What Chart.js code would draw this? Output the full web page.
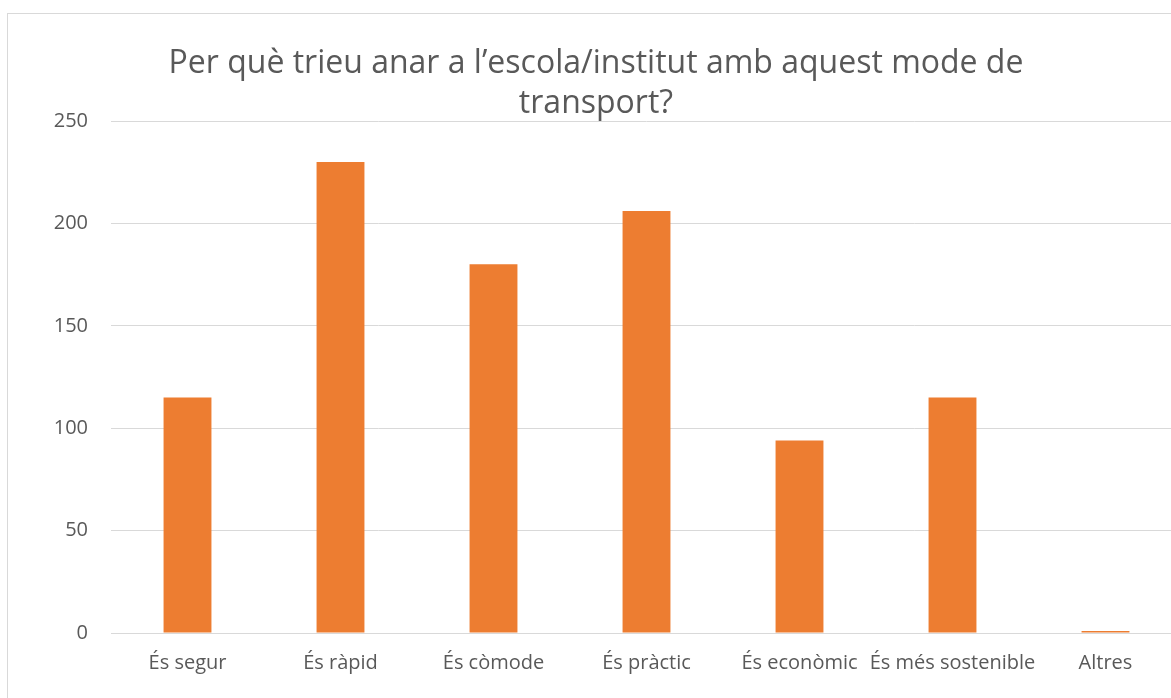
<!DOCTYPE html>
<html>
<head>
<meta charset="utf-8">
<script src="https://cdn.jsdelivr.net/npm/chart.js@4/dist/chart.umd.min.js"></script>
<style>
  html, body { margin: 0; padding: 0; background: #ffffff; overflow: hidden; width: 1171px; height: 698px; }
  #frame { position: absolute; left: 7px; top: 13px; width: 1300px; height: 800px; border: 1px solid #d9d9d9; box-sizing: border-box; }
  #wrap { position: absolute; left: 0; top: 0; width: 1182px; height: 698px; }
</style>
</head>
<body>
<div id="frame"></div>
<div id="wrap"><canvas id="c"></canvas></div>
<script>
const categories = ["És segur", "És ràpid", "És còmode", "És pràctic", "És econòmic", "És més sostenible", "Altres"];
const values = [115, 230, 180, 206, 94, 115, 1];
const titleLines = ["Per què trieu anar a l\u2019escola/institut amb aquest mode de", "transport?"];
const yTicks = [0, 50, 100, 150, 200, 250];

const FONT = "'Open Sans', 'Liberation Sans', sans-serif";
const TXT = "#595959";

new Chart(document.getElementById("c"), {
  type: "bar",
  data: {
    labels: categories,
    datasets: [{
      data: values,
      backgroundColor: "#ed7d31",
      borderWidth: 0,
      categoryPercentage: 1,
      barPercentage: 0.313
    }]
  },
  options: {
    responsive: true,
    maintainAspectRatio: false,
    animation: false,
    layout: { padding: { left: 10, right: 0, top: 0, bottom: 0 } },
    plugins: {
      legend: { display: false },
      tooltip: { enabled: false },
      title: {
        display: true,
        text: titleLines,
        color: TXT,
        font: { family: FONT, size: 32, weight: "normal", lineHeight: 1.25 },
        padding: { top: 44, bottom: -3 }
      }
    },
    scales: {
      x: {
        grid: { display: false, drawTicks: false },
        border: { display: true, color: "#d9d9d9", width: 1 },
        ticks: { color: TXT, font: { family: FONT, size: 20 }, padding: 18, maxRotation: 0, autoSkip: false },
        afterFit: (s) => { s.height = 65; }
      },
      y: {
        min: 0, max: 250,
        afterBuildTicks: (s) => { s.ticks = yTicks.map(v => ({ value: v })); },
        grid: { color: "#d9d9d9", lineWidth: 1, drawTicks: false },
        border: { display: false },
        ticks: { color: TXT, font: { family: FONT, size: 20 }, padding: 23 },
        afterFit: (s) => { s.width = 101; }
      }
    }
  }
});
</script>
</body>
</html>
